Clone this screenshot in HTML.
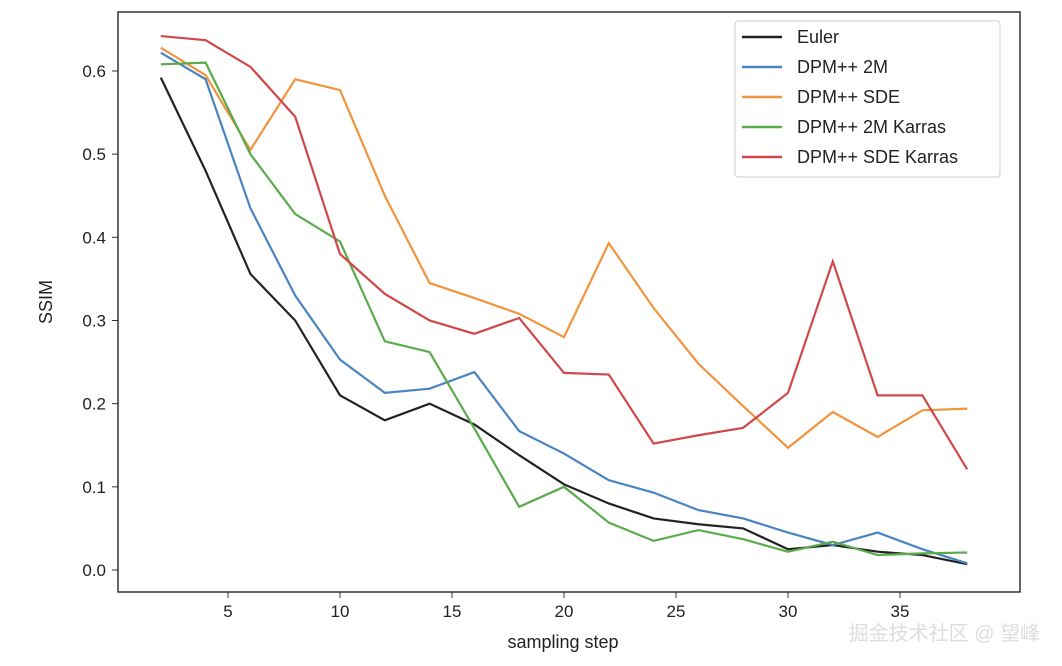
<!DOCTYPE html>
<html><head><meta charset="utf-8"><style>
body{margin:0;background:#fff;}
svg{display:block;font-family:"Liberation Sans","DejaVu Sans",sans-serif;}
</style></head><body>
<svg id="chart" width="1062" height="666">
<rect x="118" y="12" width="902" height="580" fill="none" stroke="#333" stroke-width="1.5"/>
<g id="xticks"></g>
<g id="yticks"></g>
<g id="lines"></g>
<text x="52" y="302" font-size="18" fill="#222" text-anchor="middle" transform="rotate(-90 52 302)">SSIM</text>
<text x="563" y="648" font-size="18" fill="#222" text-anchor="middle">sampling step</text>
<g id="legend">
<rect x="735" y="21" width="265" height="156" rx="3" fill="#fff" stroke="#ccc"/>
</g>
<text x="1040" y="640" font-size="20" fill="#ddd" text-anchor="end" font-family="'Liberation Sans','Noto Sans CJK SC',sans-serif">掘金技术社区 @ 望峰</text>
</svg>
<script>
const steps=[2,4,6,8,10,12,14,16,18,20,22,24,26,28,30,32,34,36,38];
const seriesNames=["Euler","DPM++ 2M","DPM++ SDE","DPM++ 2M Karras","DPM++ SDE Karras"];
const seriesColors=["#222222","#4a84c0","#f0953e","#5aab4b","#d0484a"];
const euler=[0.592,0.48,0.356,0.30,0.21,0.18,0.20,0.175,0.138,0.103,0.08,0.062,0.055,0.05,0.025,0.03,0.022,0.018,0.007];
const dpm2m=[0.622,0.59,0.435,0.33,0.253,0.213,0.218,0.238,0.167,0.14,0.108,0.093,0.072,0.062,0.045,0.03,0.045,0.025,0.008];
const dpmSde=[0.628,0.595,0.505,0.59,0.577,0.45,0.345,0.327,0.308,0.28,0.393,0.315,0.248,0.197,0.147,0.19,0.16,0.192,0.194];
const dpm2mK=[0.608,0.61,0.5,0.428,0.395,0.275,0.262,0.17,0.076,0.1,0.057,0.035,0.048,0.037,0.022,0.034,0.018,0.02,0.021];
const dpmSdeK=[0.642,0.637,0.605,0.545,0.38,0.332,0.3,0.284,0.303,0.237,0.235,0.152,0.162,0.171,0.213,0.371,0.21,0.21,0.121];
const xTicks=[5,10,15,20,25,30,35];
const yTicks=[0,0.1,0.2,0.3,0.4,0.5,0.6];
const yTickLabels=["0.0","0.1","0.2","0.3","0.4","0.5","0.6"];
const NS="http://www.w3.org/2000/svg";
const xs=v=>228+(v-5)*22.4;
const ys=v=>570-v*831.7;
const xg=document.getElementById('xticks'),yg=document.getElementById('yticks');
xTicks.forEach(t=>{
 const l=document.createElementNS(NS,'line');
 
 
 l.setAttribute('x1',xs(t));l.setAttribute('x2',xs(t));l.setAttribute('y1',592);l.setAttribute('y2',598);l.setAttribute('stroke','#333');
 xg.appendChild(l);
 const tx=document.createElementNS(NS,'text');
 
 
 tx.setAttribute('x',xs(t));tx.setAttribute('y',617);tx.setAttribute('font-size','17');tx.setAttribute('text-anchor','middle');tx.setAttribute('fill','#222');
 tx.textContent=t;xg.appendChild(tx);
});
yTicks.forEach((t,i)=>{
 const l=document.createElementNS(NS,'line');
 
 
 l.setAttribute('x1',112);l.setAttribute('x2',118);l.setAttribute('y1',ys(t));l.setAttribute('y2',ys(t));l.setAttribute('stroke','#333');
 yg.appendChild(l);
 const tx=document.createElementNS(NS,'text');
 
 
 tx.setAttribute('x',106);tx.setAttribute('y',ys(t)+6);tx.setAttribute('font-size','17');tx.setAttribute('text-anchor','end');tx.setAttribute('fill','#222');
 tx.textContent=yTickLabels[i];yg.appendChild(tx);
});
const data=[euler,dpm2m,dpmSde,dpm2mK,dpmSdeK];
const lg=document.getElementById('lines'),leg=document.getElementById('legend');
data.forEach((arr,i)=>{
 const p=document.createElementNS(NS,'polyline');
 
 
 p.setAttribute('points',arr.map((v,j)=>xs(steps[j])+','+ys(v)).join(' '));
 p.setAttribute('fill','none');p.setAttribute('stroke',seriesColors[i]);p.setAttribute('stroke-width','2.2');
 lg.appendChild(p);
 const y=37+i*30;
 const l=document.createElementNS(NS,'line');
 
 
 l.setAttribute('x1',742);l.setAttribute('x2',782);l.setAttribute('y1',y);l.setAttribute('y2',y);l.setAttribute('stroke',seriesColors[i]);l.setAttribute('stroke-width','2.5');
 leg.appendChild(l);
 const tx=document.createElementNS(NS,'text');
 
 
 tx.setAttribute('x',797);tx.setAttribute('y',y+6);tx.setAttribute('font-size','18');tx.setAttribute('fill','#222');
 tx.textContent=seriesNames[i];leg.appendChild(tx);
});
</script>
</body></html>
